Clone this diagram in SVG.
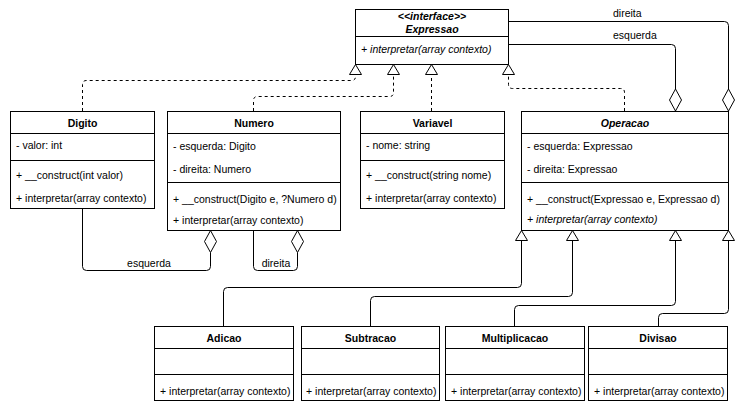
<svg xmlns="http://www.w3.org/2000/svg" width="746" height="412" viewBox="0 0 746 412">
<style>
text{font-family:"Liberation Sans",Arial,sans-serif;font-size:10.5px;fill:#000}
.h{font-weight:bold;text-anchor:middle}
.i{font-style:italic}
.c{text-anchor:middle}
.box{fill:#fff;stroke:#000;stroke-width:1}
.ln{fill:none;stroke:#000;stroke-width:1}
.ds{fill:none;stroke:#000;stroke-width:1;stroke-dasharray:3,3}
.tri{fill:#fff;stroke:#000;stroke-width:1}
</style>
<rect width="746" height="412" fill="#fff"/>
<g id="connectors">
<!-- realizations -->
<path class="ds" d="M82.5,111 V84.5 Q82.5,80.5 86.5,80.5 H351.5 Q355.5,80.5 355.5,76.5 V74.5"/>
<path class="ds" d="M253.5,111 V100.5 Q253.5,96.5 257.5,96.5 H389.5 Q393.5,96.5 393.5,92.5 V74.5"/>
<path class="ds" d="M431.5,111 V74.5"/>
<path class="ds" d="M624.5,111 V92.5 Q624.5,88.5 620.5,88.5 H512.5 Q508.5,88.5 508.5,84.5 V74.5"/>
<polygon class="tri" points="355.5,64.5 349.5,74.5 361.5,74.5"/>
<polygon class="tri" points="393.5,64.5 387.5,74.5 399.5,74.5"/>
<polygon class="tri" points="431.5,64.5 425.5,74.5 437.5,74.5"/>
<polygon class="tri" points="508.5,64.5 502.5,74.5 514.5,74.5"/>
<!-- aggregations Operacao -->
<path class="ln" d="M508.5,21.5 H724.5 Q728.5,21.5 728.5,25.5 V89"/>
<polygon class="tri" points="728.5,89 734.5,100 728.5,111 722.5,100"/>
<text x="613" y="17">direita</text>
<path class="ln" d="M508.5,44.5 H671.5 Q675.5,44.5 675.5,48.5 V89"/>
<polygon class="tri" points="675.5,89 681.5,100 675.5,111 669.5,100"/>
<text x="613" y="39">esquerda</text>
<!-- aggregations Numero -->
<path class="ln" d="M82.5,208.5 V266.5 Q82.5,270.5 86.5,270.5 H206.5 Q210.5,270.5 210.5,266.5 V252.5"/>
<polygon class="tri" points="210.5,230.5 216.5,241.5 210.5,252.5 204.5,241.5"/>
<text x="149" y="267" class="c">esquerda</text>
<path class="ln" d="M253.5,230.5 V266.5 Q253.5,270.5 257.5,270.5 H293.5 Q297.5,270.5 297.5,266.5 V252.5"/>
<polygon class="tri" points="297.5,230.5 303.5,241.5 297.5,252.5 291.5,241.5"/>
<text x="276" y="267" class="c">direita</text>
<!-- generalizations -->
<path class="ln" d="M223.5,326.5 V291.5 Q223.5,287.5 227.5,287.5 H517.5 Q521.5,287.5 521.5,283.5 V240.5"/>
<path class="ln" d="M370.5,326.5 V300.5 Q370.5,296.5 374.5,296.5 H568.5 Q572.5,296.5 572.5,292.5 V240.5"/>
<path class="ln" d="M514.5,326.5 V309.5 Q514.5,305.5 518.5,305.5 H671.5 Q675.5,305.5 675.5,301.5 V240.5"/>
<path class="ln" d="M658.5,326.5 V317.5 Q658.5,313.5 662.5,313.5 H724.5 Q728.5,313.5 728.5,309.5 V240.5"/>
<polygon class="tri" points="521.5,230.5 515.5,240.5 527.5,240.5"/>
<polygon class="tri" points="572.5,230.5 566.5,240.5 578.5,240.5"/>
<polygon class="tri" points="675.5,230.5 669.5,240.5 681.5,240.5"/>
<polygon class="tri" points="728.5,230.5 722.5,240.5 734.5,240.5"/>
</g>
<g id="Expressao">
<rect class="box" x="355.5" y="9.5" width="153" height="55"/>
<line class="ln" x1="355.5" y1="36.5" x2="508.5" y2="36.5"/>
<text x="432" y="19.5" class="h i">&lt;&lt;interface&gt;&gt;</text>
<text x="432" y="32.5" class="h i">Expressao</text>
<text x="361" y="53" class="i">+ interpretar(array contexto)</text>
</g>
<g id="Digito">
<rect class="box" x="10.5" y="111.5" width="144" height="97"/>
<line class="ln" x1="10.5" y1="133.5" x2="154.5" y2="133.5"/>
<line class="ln" x1="10.5" y1="160.5" x2="154.5" y2="160.5"/>
<text x="82.5" y="127" class="h">Digito</text>
<text x="16" y="149">- valor: int</text>
<text x="16" y="179">+ __construct(int valor)</text>
<text x="16" y="202">+ interpretar(array contexto)</text>
</g>
<g id="Numero">
<rect class="box" x="167.5" y="111.5" width="173" height="119"/>
<line class="ln" x1="167.5" y1="133.5" x2="340.5" y2="133.5"/>
<line class="ln" x1="167.5" y1="182.5" x2="340.5" y2="182.5"/>
<text x="254" y="127" class="h">Numero</text>
<text x="173" y="150">- esquerda: Digito</text>
<text x="173" y="173">- direita: Numero</text>
<text x="173" y="203">+ __construct(Digito e, ?Numero d)</text>
<text x="173" y="224">+ interpretar(array contexto)</text>
</g>
<g id="Variavel">
<rect class="box" x="360.5" y="111.5" width="144" height="97"/>
<line class="ln" x1="360.5" y1="133.5" x2="504.5" y2="133.5"/>
<line class="ln" x1="360.5" y1="160.5" x2="504.5" y2="160.5"/>
<text x="432.5" y="127" class="h">Variavel</text>
<text x="366" y="149">- nome: string</text>
<text x="366" y="179">+ __construct(string nome)</text>
<text x="366" y="202">+ interpretar(array contexto)</text>
</g>
<g id="Operacao">
<rect class="box" x="521.5" y="111.5" width="207" height="119"/>
<line class="ln" x1="521.5" y1="133.5" x2="728.5" y2="133.5"/>
<line class="ln" x1="521.5" y1="182.5" x2="728.5" y2="182.5"/>
<text x="625" y="127" class="h i">Operacao</text>
<text x="527" y="150">- esquerda: Expressao</text>
<text x="527" y="173">- direita: Expressao</text>
<text x="527" y="203">+ __construct(Expressao e, Expressao d)</text>
<text x="527" y="223" class="i">+ interpretar(array contexto)</text>
</g>
<g id="Adicao">
<rect class="box" x="154.5" y="326.5" width="139" height="74"/>
<line class="ln" x1="154.5" y1="348.5" x2="293.5" y2="348.5"/>
<line class="ln" x1="154.5" y1="374.5" x2="293.5" y2="374.5"/>
<text x="224" y="342" class="h">Adicao</text>
<text x="160" y="395">+ interpretar(array contexto)</text>
</g>
<g id="Subtracao">
<rect class="box" x="301.5" y="326.5" width="138" height="74"/>
<line class="ln" x1="301.5" y1="348.5" x2="439.5" y2="348.5"/>
<line class="ln" x1="301.5" y1="374.5" x2="439.5" y2="374.5"/>
<text x="370.5" y="342" class="h">Subtracao</text>
<text x="306" y="395">+ interpretar(array contexto)</text>
</g>
<g id="Multiplicacao">
<rect class="box" x="445.5" y="326.5" width="139" height="74"/>
<line class="ln" x1="445.5" y1="348.5" x2="584.5" y2="348.5"/>
<line class="ln" x1="445.5" y1="374.5" x2="584.5" y2="374.5"/>
<text x="515" y="342" class="h">Multiplicacao</text>
<text x="451" y="395">+ interpretar(array contexto)</text>
</g>
<g id="Divisao">
<rect class="box" x="588.5" y="326.5" width="139" height="74"/>
<line class="ln" x1="588.5" y1="348.5" x2="727.5" y2="348.5"/>
<line class="ln" x1="588.5" y1="374.5" x2="727.5" y2="374.5"/>
<text x="658" y="342" class="h">Divisao</text>
<text x="594" y="395">+ interpretar(array contexto)</text>
</g>
</svg>
